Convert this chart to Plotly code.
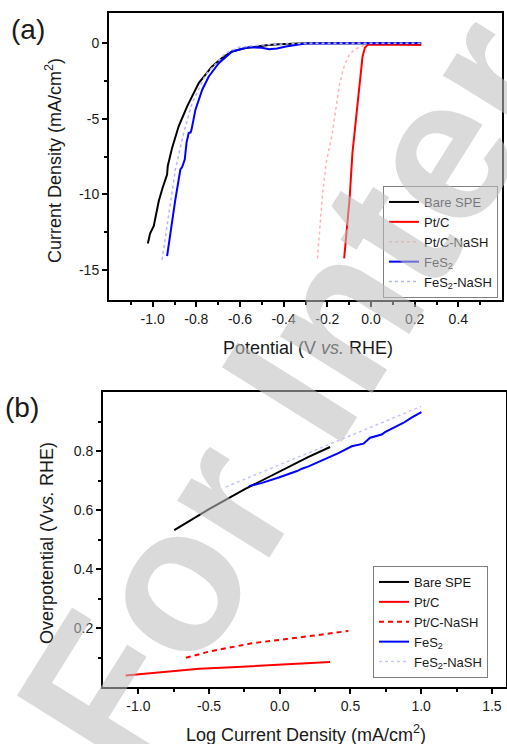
import plotly.graph_objects as go

W, H = 507, 744

# ---------------- Panel (a) data: LSV curves ----------------
a_bare_x = [-1.022, -1.012, -0.995, -0.985, -0.972, -0.955, -0.934, -0.931, -0.911, -0.881,
            -0.842, -0.789, -0.728, -0.68, -0.636, -0.58, -0.528, -0.47, -0.42, -0.35, -0.3, 0.0, 0.23]
a_bare_y = [-13.26, -12.6, -12.1, -11.4, -10.45, -9.6, -8.69, -8.14, -6.93, -5.5,
            -4.18, -2.64, -1.54, -0.95, -0.55, -0.33, -0.22, -0.12, -0.07, -0.03, 0.0, 0.0, 0.0]

a_ptc_x = [-0.123, -0.098, -0.085, -0.054, -0.039, -0.028, -0.016, 0.0, 0.1, 0.23]
a_ptc_y = [-14.25, -10.3, -7.26, -2.86, -0.9, -0.3, -0.11, -0.08, -0.08, -0.12]

a_ptcn_x = [-0.245, -0.235, -0.223, -0.205, -0.177, -0.146, -0.125, -0.1, -0.075, -0.046, -0.02]
a_ptcn_y = [-14.25, -12.3, -10.15, -7.9, -5.93, -2.88, -1.6, -0.77, -0.4, -0.22, -0.1]

a_fes_x = [-0.934, -0.919, -0.896, -0.873, -0.865, -0.853, -0.845, -0.835, -0.826, -0.822,
           -0.804, -0.773, -0.743, -0.697, -0.636, -0.559, -0.5, -0.467, -0.43, -0.39, -0.3, 0.0, 0.23]
a_fes_y = [-14.1, -12.5, -10.34, -8.36, -8.2, -7.7, -6.6, -5.94, -5.9, -5.72,
           -4.4, -3.08, -2.2, -1.32, -0.55, -0.26, -0.3, -0.4, -0.35, -0.22, -0.02, 0.0, 0.0]

a_fesn_x = [-0.957, -0.926, -0.896, -0.858, -0.819, -0.758, -0.666, -0.605, -0.513, -0.4, -0.3, 0.23]
a_fesn_y = [-14.34, -11.2, -8.36, -5.94, -3.96, -2.09, -0.66, -0.26, -0.13, -0.05, 0.0, 0.0]

# ---------------- Panel (b) data: Tafel plots ----------------
b_bare_x = [-0.746, -0.5, -0.25, 0.0, 0.2, 0.356]
b_bare_y = [0.532, 0.603, 0.670, 0.732, 0.779, 0.8135]

b_ptc_x = [-1.09, -0.8, -0.57, -0.3, -0.1, 0.1, 0.25, 0.356]
b_ptc_y = [0.039, 0.052, 0.062, 0.068, 0.073, 0.077, 0.081, 0.085]

b_ptcn_x = [-0.664, -0.5, -0.2, 0.1, 0.3, 0.485]
b_ptcn_y = [0.099, 0.12, 0.148, 0.165, 0.178, 0.19]

b_fes_x = [-0.218, -0.125, -0.007, 0.063, 0.122, 0.157, 0.204, 0.275, 0.345, 0.415,
           0.509, 0.592, 0.639, 0.721, 0.744, 0.815, 0.873, 0.932, 1.002]
b_fes_y = [0.681, 0.692, 0.710, 0.721, 0.732, 0.740, 0.748, 0.763, 0.778, 0.793,
           0.816, 0.825, 0.845, 0.856, 0.864, 0.881, 0.895, 0.913, 0.932]

b_fesn_x = [-0.382, 0.3, 1.0]
b_fesn_y = [0.678, 0.813, 0.951]

names = ["Bare SPE", "Pt/C", "Pt/C-NaSH", "FeS<sub>2</sub>", "FeS<sub>2</sub>-NaSH"]

FONT = "Liberation Sans, Arial, Helvetica, sans-serif"

fig = go.Figure()

# panel (a)
a_series = [
    (a_bare_x, a_bare_y, dict(color="black", width=2)),
    (a_ptc_x, a_ptc_y, dict(color="#ff0000", width=2)),
    (a_ptcn_x, a_ptcn_y, dict(color="#ffb4b4", width=1.5, dash="dot")),
    (a_fes_x, a_fes_y, dict(color="#0000ff", width=2)),
    (a_fesn_x, a_fesn_y, dict(color="#b4b4ff", width=1.5, dash="dot")),
]
for (xs, ys, ln), nm in zip(a_series, names):
    fig.add_trace(go.Scatter(x=xs, y=ys, mode="lines", name=nm, line=ln,
                             xaxis="x", yaxis="y", legend="legend"))

# panel (b)
b_series = [
    (b_bare_x, b_bare_y, dict(color="black", width=2)),
    (b_ptc_x, b_ptc_y, dict(color="#ff0000", width=2)),
    (b_ptcn_x, b_ptcn_y, dict(color="#ff0000", width=2, dash="5px,4px")),
    (b_fes_x, b_fes_y, dict(color="#0000ff", width=2)),
    (b_fesn_x, b_fesn_y, dict(color="#c4c4ff", width=1.5, dash="dot")),
]
for (xs, ys, ln), nm in zip(b_series, names):
    fig.add_trace(go.Scatter(x=xs, y=ys, mode="lines", name=nm, line=ln,
                             xaxis="x2", yaxis="y2", legend="legend2"))

axis_common = dict(showline=True, linecolor="black", linewidth=2, mirror=True,
                   ticks="outside", ticklen=5, tickwidth=1.5, tickcolor="black",
                   showgrid=False, zeroline=False,
                   tickfont=dict(family=FONT, size=14, color="#1a1a1a"))

fig.update_layout(
    width=W, height=H,
    margin=dict(l=0, r=0, t=0, b=0),
    paper_bgcolor="white", plot_bgcolor="white",
    font=dict(family=FONT, color="#1a1a1a"),
    xaxis=dict(domain=[109 / W, 502 / W], range=[-1.2, 0.6], anchor="y",
               tickvals=[-1.0, -0.8, -0.6, -0.4, -0.2, 0.0, 0.2, 0.4],
               ticktext=["-1.0", "-0.8", "-0.6", "-0.4", "-0.2", "0.0", "0.2", "0.4"],
               minor=dict(ticks="outside", ticklen=3, tickwidth=1.5, tickcolor="black",
                          tickvals=[-1.1, -0.9, -0.7, -0.5, -0.3, -0.1, 0.1, 0.3, 0.5]),
               **axis_common),
    yaxis=dict(domain=[1 - 300 / H, 1 - 13 / H], range=[-17, 2], anchor="x",
               tickvals=[-15, -10, -5, 0], ticktext=["-15", "-10", "-5", "0"],
               minor=dict(ticks="outside", ticklen=3, tickwidth=1.5, tickcolor="black",
                          tickvals=[-12.5, -7.5, -2.5]),
               **axis_common),
    xaxis2=dict(domain=[103 / W, 506 / W], range=[-1.25, 1.6], anchor="y2",
                tickvals=[-1.0, -0.5, 0.0, 0.5, 1.0, 1.5],
                ticktext=["-1.0", "-0.5", "0.0", "0.5", "1.0", "1.5"],
                minor=dict(ticks="outside", ticklen=3, tickwidth=1.5, tickcolor="black",
                           tickvals=[-0.75, -0.25, 0.25, 0.75, 1.25]),
                **axis_common),
    yaxis2=dict(domain=[1 - 687 / H, 1 - 392 / H], range=[0, 1.0], anchor="x2",
                tickvals=[0.2, 0.4, 0.6, 0.8], ticktext=["0.2", "0.4", "0.6", "0.8"],
                minor=dict(ticks="outside", ticklen=3, tickwidth=1.5, tickcolor="black",
                           tickvals=[0.1, 0.3, 0.5, 0.7, 0.9]),
                **axis_common),
    legend=dict(x=383 / W, y=1 - 186 / H, xanchor="left", yanchor="top",
                bordercolor="#7f7f7f", borderwidth=1, bgcolor="rgba(255,255,255,0)",
                font=dict(family=FONT, size=13, color="#1a1a1a"), tracegroupgap=0),
    legend2=dict(x=373 / W, y=1 - 566 / H, xanchor="left", yanchor="top",
                 bordercolor="#7f7f7f", borderwidth=1, bgcolor="rgba(255,255,255,0)",
                 font=dict(family=FONT, size=13, color="#1a1a1a"), tracegroupgap=0),
    showlegend=True,
)

ann = [
    dict(text="(a)", x=28 / W, y=1 - 30 / H, font=dict(size=28)),
    dict(text="(b)", x=22 / W, y=1 - 408 / H, font=dict(size=28)),
    dict(text="Current Density (mA/cm<sup>2</sup>)", x=53 / W, y=1 - 161 / H,
         textangle=-90, font=dict(size=18)),
    dict(text="Potential (V <i>vs.</i> RHE)", x=308 / W, y=1 - 348 / H, font=dict(size=18)),
    dict(text="Overpotential (V<i>vs.</i> RHE)", x=47 / W, y=1 - 543 / H,
         textangle=-90, font=dict(size=18)),
    dict(text="Log Current Density (mA/cm<sup>2</sup>)", x=306 / W, y=1 - 733 / H,
         font=dict(size=18)),
]
for a in ann:
    f = dict(family=FONT, color="#1a1a1a")
    f.update(a.pop("font"))
    fig.add_annotation(xref="paper", yref="paper", showarrow=False,
                       xanchor="center", yanchor="middle", font=f, **a)

# watermark
fig.add_annotation(text="<b>For Inter</b>", xref="paper", yref="paper",
                   x=288 / W, y=1 - 392 / H, showarrow=False, textangle=-58,
                   xanchor="center", yanchor="middle",
                   font=dict(family=FONT, size=205, color="rgba(190,190,190,0.57)"))

fig.write_html("out.html", config={"displayModeBar": False},
               post_script="document.body.style.margin='0px';document.body.style.overflow='hidden';")
